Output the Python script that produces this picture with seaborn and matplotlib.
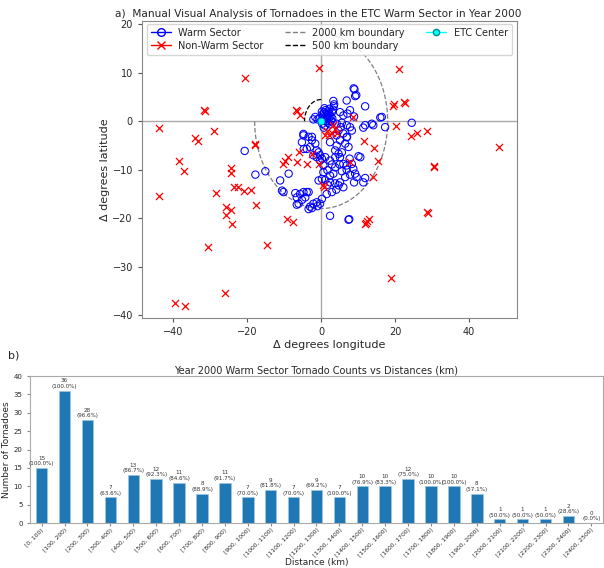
import numpy as np
import pandas as pd
import matplotlib
matplotlib.use("Agg")
import matplotlib.pyplot as plt
import seaborn as sns
from matplotlib.lines import Line2D

# ---------------- data: panel a ----------------
warm_lon = [8.8, 9.0, 9.5, 9.2, 6.9, 3.3, 3.5, 3.4, 3.2, 11.9, 7.1, 7.8, 5.1, 6.0, 8.9, 16.4, 24.5,
            0.5, 1.0, 1.5, 0.8, 1.2, 2.0, 2.5, 0.3, 1.8, 2.7, 0.6, 1.3, 2.2, 0.9, 1.7, 2.9, 0.4, 1.1, 2.4, 3.0,
            -1.6, -2.1, -1.0, -0.5, 0.2, 1.6, 2.3, 0.7, 1.9, 3.1,
            4.2, 5.6, 5.3, 6.9, 7.8, 11.4, 11.9, 13.7, 14.1, 17.3, 16.0,
            4.7, 6.0, 4.2, 6.9, 5.1, 6.5, 4.2, 2.4, 3.8, 5.6, 7.4, 7.0, 8.3,
            -4.8, -3.4, -2.5, -5.2, -3.0, -1.6, -3.9, -1.2, -2.1, -0.3, 0.2, -0.7, 3.8, 2.4, 5.1, -4.8, -2.5, -4.7,
            4.7, 10.1, 7.7, 8.3, 6.9, 6.0, 5.0, 3.8, 2.9, 1.7, 3.3, 2.4, 0.6, 0.2, -0.7, 1.1, 8.7, 9.2, 9.6, 8.9,
            7.8, 6.9, 5.6, 6.5, 5.1, 4.7, 6.0, 4.1, 2.9, 2.4, 1.7, 3.8, 11.9, 11.4, 10.6,
            1.5, 0.2, -1.2, -0.3, -2.1, -3.0, -2.5, -3.4, -5.7, -5.2, -6.6, -4.3, -3.4, -6.1, -7.0, -10.2, -10.6,
            2.4, 7.4, 7.6, -11.1, -8.8, -17.8, -15.1, -20.7, -1.2, 1.1, -0.3, 0.6, -4.8, -3.9, -6.6, -1.0]
warm_lat = [6.8, 6.6, 5.4, 5.2, 4.3, 4.2, 3.5, 3.1, 2.4, 3.1, 1.6, 2.3, 1.9, 1.2, 1.0, 0.9, -0.3,
            0.3, 0.8, 1.2, 1.8, 2.3, 0.5, 1.0, -0.5, -0.3, 0.2, 1.0, 0.0, 1.6, 2.7, 2.0, 1.9, 1.5, -0.9, -0.6, 0.6,
            0.9, 0.4, 0.4, 0.6, 2.0, 0.7, 2.6, -1.3, 1.3, -0.2,
            -0.5, -0.3, -1.2, -0.8, -1.2, -1.3, -0.8, -0.5, -0.8, -1.2, 0.8,
            -1.9, -2.5, -2.9, -3.3, -3.9, -4.6, -5.0, -4.3, -6.0, -6.4, -5.3, -3.2, -1.9,
            -2.6, -3.2, -3.9, -4.3, -5.3, -4.6, -5.7, -6.0, -7.0, -7.0, -7.7, -6.4, -7.4, -8.1, -7.4, -2.9, -3.2, -5.7,
            -6.7, -7.2, -7.7, -8.8, -9.1, -8.8, -8.9, -9.5, -8.9, -10.1, -10.8, -11.2, -10.5, -11.9, -12.2, -12.1, -9.8, -10.8, -11.5, -12.6,
            -11.0, -10.0, -10.3, -11.5, -12.6, -13.2, -13.6, -14.1, -14.6, -12.6, -13.1, -12.8, -11.7, -12.6, -7.4,
            -15.0, -16.0, -16.7, -17.0, -17.0, -17.6, -17.9, -18.1, -15.0, -16.2, -15.7, -15.7, -14.6, -17.0, -14.8, -14.6, -14.3,
            -19.5, -20.3, -20.2, -12.2, -10.8, -11.0, -10.3, -6.1, -7.4, -7.4, -8.1, -9.1, -14.6, -14.6, -17.2, -17.5]

nonwarm_lon = [-0.7, -20.5, 21.1, -43.8, -31.5, -31.8, -29.1, -34.1, -33.2, -38.6, -37.0, -43.8, -18.0, -17.8,
               -24.4, -24.4, -28.4, -23.7, -22.4, -21.0, -18.9, -17.6, -25.7, -24.4, -25.7, -24.1, -30.6, -14.6,
               -25.9, -39.6, -36.9, -9.3, -7.5, -6.6, -6.8, -5.7, 8.7,
               1.7, 2.9, 3.8, 2.2, 3.3, 4.4, 1.1,
               11.7, 14.3, 20.2, 19.7, 19.5, 22.5, 22.8, 24.2, 25.9, 28.6, 48.2, 30.4, 30.5, 28.6, 28.8, 19.0,
               -9.7, -10.2, -9.1, -6.6, -6.1, -3.9, -2.5, -0.7, 7.8, 15.3, 14.1, 0.6, 0.8, 12.3, 13.0, 11.9, 12.2]
nonwarm_lat = [11.1, 8.9, 10.8, -1.4, 2.1, 2.3, -2.0, -3.5, -4.1, -8.1, -10.3, -15.5, -4.8, -4.6,
               -9.6, -10.6, -14.8, -13.5, -13.5, -14.3, -14.1, -17.2, -17.7, -18.3, -19.3, -21.2, -26.0, -25.6,
               -35.5, -37.4, -38.1, -20.1, -20.8, 2.1, 2.3, 1.4, 0.8,
               -2.0, -2.5, -1.5, -2.8, -0.8, -2.5, -2.9,
               -4.1, -5.5, -1.0, 3.5, 3.1, 4.0, 3.8, -3.1, -2.4, -1.9, -5.4, -9.5, -9.3, -18.8, -18.9, -32.3,
               -8.1, -8.8, -7.4, -8.4, -6.4, -8.8, -6.7, -8.8, -8.4, -8.1, -11.4, -13.1, -13.6, -20.5, -20.1, -21.1, -20.9]

etc_lon = [0.0]
etc_lat = [0.0]
r_2000_deg = 18.0
r_500_deg = 4.5

# ---------------- data: panel b ----------------
bins = ["[0, 100)", "[100, 200)", "[200, 300)", "[300, 400)", "[400, 500)", "[500, 600)", "[600, 700)",
        "[700, 800)", "[800, 900)", "[900, 1000)", "[1000, 1100)", "[1100, 1200)", "[1200, 1300)",
        "[1300, 1400)", "[1400, 1500)", "[1500, 1600)", "[1600, 1700)", "[1700, 1800)", "[1800, 1900)",
        "[1900, 2000)", "[2000, 2100)", "[2100, 2200)", "[2200, 2300)", "[2300, 2400)", "[2400, 2500)"]
counts = [15, 36, 28, 7, 13, 12, 11, 8, 11, 7, 9, 7, 9, 7, 10, 10, 12, 10, 10, 8, 1, 1, 1, 2, 0]
percents = [100.0, 100.0, 96.6, 63.6, 86.7, 92.3, 84.6, 88.9, 91.7, 70.0, 81.8, 70.0, 69.2, 100.0,
            76.9, 83.3, 75.0, 100.0, 100.0, 57.1, 50.0, 50.0, 50.0, 28.6, 0.0]

# ---------------- figure ----------------
sns.set_style("white")
plt.rcParams['font.family'] = ['DejaVu Sans']
fig = plt.figure(figsize=(6.04, 5.68), dpi=100)

ax1 = fig.add_axes([0.235, 0.44, 0.621, 0.523])
ax1.axhline(0, color='#aaaaaa', lw=1, zorder=0)
ax1.axvline(0, color='#aaaaaa', lw=1, zorder=0)

t1 = np.linspace(-np.pi, np.pi / 2, 300)
ax1.plot(r_2000_deg * np.cos(t1), r_2000_deg * np.sin(t1), ls='--', color='gray', lw=0.9)
t2 = np.linspace(np.pi / 2, np.pi, 100)
ax1.plot(r_500_deg * np.cos(t2), r_500_deg * np.sin(t2), ls='--', color='black', lw=0.9)

warm_df = pd.DataFrame({"lon": warm_lon, "lat": warm_lat})
nw_df = pd.DataFrame({"lon": nonwarm_lon, "lat": nonwarm_lat})
sns.scatterplot(data=warm_df, x="lon", y="lat", ax=ax1, marker='o', s=28,
                facecolors='none', edgecolors='blue', linewidths=0.75, zorder=3)
sns.scatterplot(data=nw_df, x="lon", y="lat", ax=ax1, marker='x', s=26,
                color='red', linewidth=0.9, zorder=4)
sns.scatterplot(x=etc_lon, y=etc_lat, ax=ax1, marker='o', s=24, color='cyan',
                edgecolor='darkcyan', linewidth=0.5, zorder=5)

ax1.set_xlim(-48.5, 53)
ax1.set_ylim(-40.6, 20.7)
ax1.set_xticks([-40, -20, 0, 20, 40])
ax1.set_yticks([-40, -30, -20, -10, 0, 10, 20])
ax1.tick_params(labelsize=7, length=3, left=True, bottom=True, color='#555555')
ax1.set_xlabel("Δ degrees longitude", fontsize=8, labelpad=2)
ax1.set_ylabel("Δ degrees latitude", fontsize=8, labelpad=2)
ax1.set_title("a)  Manual Visual Analysis of Tornadoes in the ETC Warm Sector in Year 2000",
              fontsize=7.6, pad=3, x=0.47)
for sp in ax1.spines.values():
    sp.set_color('#888888')

handles = [
    Line2D([0], [0], color='blue', marker='o', markerfacecolor='none', markersize=5.5, lw=1),
    Line2D([0], [0], color='red', marker='x', markersize=5.5, lw=1),
    Line2D([0], [0], color='gray', ls='--', lw=1),
    Line2D([0], [0], color='black', ls='--', lw=1),
    Line2D([0], [0], color='cyan', marker='o', markerfacecolor='cyan', markeredgecolor='darkcyan',
           markersize=4.5, lw=1),
]
labels = ["Warm Sector", "Non-Warm Sector", "2000 km boundary", "500 km boundary", "ETC Center"]
ax1.legend(handles, labels, loc='upper center', ncol=3, fontsize=7, frameon=True,
           borderaxespad=0.3, columnspacing=2.2, handlelength=2.0, labelspacing=0.3)

# ---------------- panel b ----------------
ax2 = fig.add_axes([0.05, 0.079, 0.948, 0.259])
bar_df = pd.DataFrame({"bin": bins, "count": counts, "pct": percents})
sns.barplot(data=bar_df, x="bin", y="count", ax=ax2, color='#1f77b4', saturation=1,
            width=0.5, edgecolor='#9ecae1', linewidth=0.4)
for i, (c, p) in enumerate(zip(counts, percents)):
    ax2.text(i, c + 0.5, f"{c}\n({p:.1f}%)", ha='center', va='bottom', fontsize=4.1,
             color='#333333', linespacing=1.1)
ax2.set_xlim(-0.5, len(bins) - 0.5)
ax2.set_ylim(0, 40)
ax2.set_yticks(range(0, 41, 5))
ax2.set_xticks(range(len(bins)))
ax2.set_xticklabels(bins, rotation=45, ha='right', rotation_mode='anchor', fontsize=4.3)
ax2.tick_params(axis='y', labelsize=5, length=2, left=True, color='#888888')
ax2.tick_params(axis='x', length=2, bottom=True, color='#888888', pad=1)
ax2.set_xlabel("Distance (km)", fontsize=6.5, labelpad=0)
ax2.set_ylabel("Number of Tornadoes", fontsize=6.5, labelpad=2)
ax2.set_title("Year 2000 Warm Sector Tornado Counts vs Distances (km)", fontsize=7, pad=2)
for sp in ax2.spines.values():
    sp.set_color('#aaaaaa')
fig.text(0.013, 0.368, "b)", fontsize=8)

fig.savefig("out.png", dpi=100)
